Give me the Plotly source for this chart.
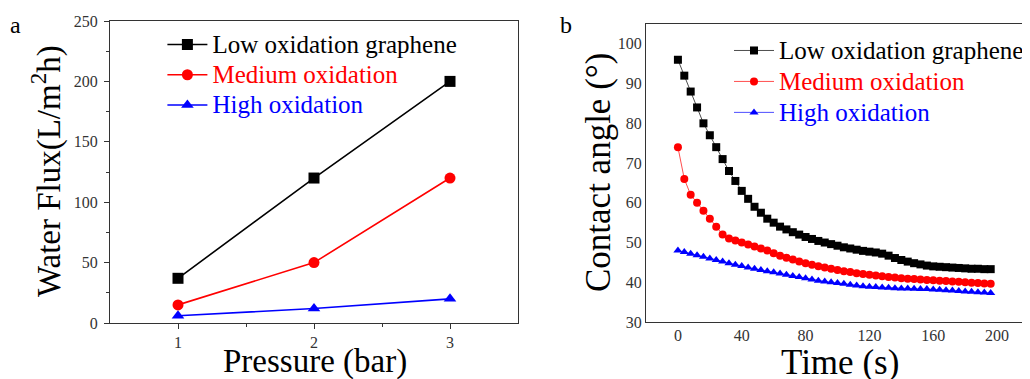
import plotly.graph_objects as go

# Panel a: water flux vs pressure
pressure = [1, 2, 3]
flux_low = [37, 120, 200]
flux_med = [15, 50, 120]
flux_high = [6, 12, 20]

# Panel b: contact angle vs time
time_s = list(range(0, 200, 4))
ca_low = [96, 92, 88, 84, 80, 77, 74, 71, 68, 65.5,
          63, 61, 59, 57.5, 56, 55, 54, 53.3, 52.6, 52.0,
          51.4, 50.9, 50.4, 50.0, 49.6, 49.2, 48.8, 48.5, 48.2, 47.9,
          47.7, 47.5, 47.2, 46.7, 46.1, 45.6, 45.2, 44.8, 44.5, 44.2,
          44.0, 43.9, 43.8, 43.7, 43.6, 43.5, 43.4, 43.4, 43.3, 43.3]
ca_med = [74, 66, 62, 60, 58, 56, 54, 52, 51, 50.5,
          50, 49.5, 49, 48.5, 48, 47.3, 46.7, 46.2, 45.7, 45.2,
          44.8, 44.4, 44.0, 43.7, 43.4, 43.1, 42.8, 42.6, 42.3, 42.1,
          41.9, 41.7, 41.5, 41.3, 41.2, 41.0, 40.9, 40.8, 40.7, 40.6,
          40.5, 40.4, 40.3, 40.2, 40.1, 40.0, 39.9, 39.8, 39.7, 39.6]
ca_high = [48, 47.6, 47.2, 46.8, 46.4, 46.0, 45.6, 45.2, 44.8, 44.4,
           44.1, 43.7, 43.4, 43.1, 42.8, 42.5, 42.2, 41.9, 41.6, 41.3,
           41.0, 40.7, 40.4, 40.2, 40.0, 39.8, 39.6, 39.4, 39.2, 39.0,
           38.9, 38.8, 38.7, 38.6, 38.5, 38.45, 38.4, 38.35, 38.3, 38.3,
           38.2, 38.1, 38.0, 37.9, 37.8, 37.7, 37.6, 37.5, 37.4, 37.3]

names = ["Low oxidation graphene", "Medium oxidation", "High oxidation"]
colors = ["#000000", "#ff0000", "#0000ff"]
symbols = ["square", "circle", "triangle-up"]

FONT = "Liberation Serif, Times New Roman, serif"
LEG_PX = 25
W, H = 1022, 371  # page body has an 8px margin


def px(x, y):
    return x / W, 1 - y / H


def leg_name(n, c):
    return "<span style='font-size:%dpx;color:%s'>%s</span>" % (LEG_PX, c, n)


fig = go.Figure()

for ys, n, c, s in zip([flux_low, flux_med, flux_high], names, colors, symbols):
    fig.add_trace(go.Scatter(x=pressure, y=ys, name=leg_name(n, c), mode="lines+markers",
                             line=dict(color=c, width=1.6),
                             marker=dict(symbol=s, color=c, size=11),
                             xaxis="x", yaxis="y", legend="legend"))

for ys, n, c, s in zip([ca_low, ca_med, ca_high], names, colors, symbols):
    fig.add_trace(go.Scatter(x=time_s, y=ys, name=leg_name(n, c), mode="lines+markers",
                             line=dict(color=c, width=0.7),
                             marker=dict(symbol=s, color=c, size=8),
                             xaxis="x2", yaxis="y2", legend="legend2"))

tickfont = dict(family=FONT, size=16, color="#333333")
left_axis = dict(showline=True, linecolor="#333333", linewidth=1.2, mirror=True,
                 ticks="outside", ticklen=5, tickcolor="#333333", showgrid=False,
                 zeroline=False, tickfont=tickfont)
right_axis = dict(showline=True, linecolor="#333333", linewidth=1.2, mirror=True,
                  ticks="", showgrid=False, zeroline=False, tickfont=tickfont)


def ann(text, x, y, size, angle=0):
    ax, ay = px(x, y)
    return dict(text=text, x=ax, y=ay, xref="paper", yref="paper", showarrow=False,
                textangle=angle, font=dict(family=FONT, size=size),
                xanchor="center", yanchor="middle")


fig.update_layout(
    width=W, height=H,
    margin=dict(l=0, r=0, t=0, b=0, autoexpand=False),
    paper_bgcolor="white", plot_bgcolor="white",
    font=dict(family=FONT, color="black"),
    xaxis=dict(domain=[102 / W, 510 / W], range=[0.5, 3.5], tickvals=[1, 2, 3],
               minor=dict(tickvals=[1.5, 2.5], ticks="outside", ticklen=3, tickcolor="#333333"),
               anchor="y", **left_axis),
    yaxis=dict(domain=[1 - 315 / H, 1 - 13 / H], range=[0, 250], tickvals=[0, 50, 100, 150, 200, 250],
               minor=dict(tickvals=[25, 75, 125, 175, 225], ticks="outside", ticklen=3, tickcolor="#333333"),
               ticklabelstandoff=3, anchor="x", **left_axis),
    xaxis2=dict(domain=[638 / W, 1021 / W], range=[-20, 220], tickvals=[0, 40, 80, 120, 160, 200],
                ticklabelstandoff=-1, anchor="y2", **right_axis),
    yaxis2=dict(domain=[1 - 314 / H, 1 - 16 / H], range=[30, 105], tickvals=[30, 40, 50, 60, 70, 80, 90, 100],
                anchor="x2", **right_axis),
    legend=dict(x=154.4 / W, y=1 - 16.3 / H, xanchor="left", yanchor="top", bgcolor="rgba(0,0,0,0)",
                font=dict(family=FONT, size=21), tracegroupgap=0, itemwidth=40),
    legend2=dict(x=721 / W, y=1 - 22 / H, xanchor="left", yanchor="top", bgcolor="rgba(0,0,0,0)",
                 font=dict(family=FONT, size=21.5), tracegroupgap=0, itemwidth=40),
    showlegend=True,
    annotations=[
        ann("a", 7, 17, 24),
        ann("b", 558, 17, 24),
        ann("Pressure (bar)", 307, 353, 33),
        ann("Time (s)", 832, 354, 35),
        ann("Water Flux(L/m<sup>2</sup>h)", 38, 163, 33, -90),
        ann("Contact angle (°)", 590, 165, 35, -90),
    ],
)

fig.write_html("out.html")
